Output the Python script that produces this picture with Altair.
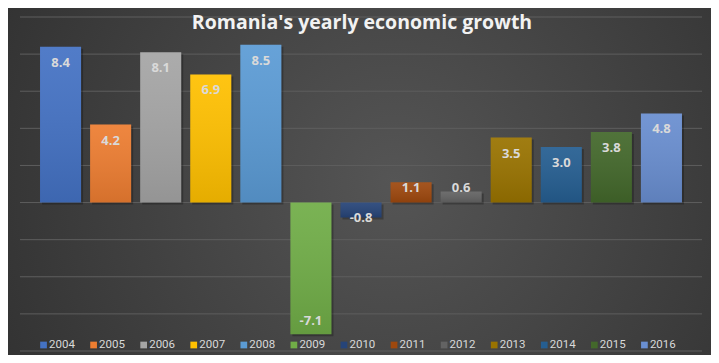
import altair as alt
import pandas as pd

years = ["2004", "2005", "2006", "2007", "2008", "2009", "2010",
         "2011", "2012", "2013", "2014", "2015", "2016"]
growth = [8.4, 4.2, 8.1, 6.9, 8.5, -7.1, -0.8, 1.1, 0.6, 3.5, 3.0, 3.8, 4.8]
colors = ["#4472C4", "#ED7D31", "#A5A5A5", "#FFC000", "#5B9BD5", "#70AD47",
          "#264478", "#9E480E", "#636363", "#997300", "#255E91", "#43682B",
          "#698ED0"]
grid_values = [-8, -6, -4, -2, 0, 2, 4, 6, 8, 10]
title_text = "Romania's yearly economic growth"

df = pd.DataFrame({"year": years, "growth": growth})
grid_df = pd.DataFrame({"v": grid_values})
one = pd.DataFrame({"k": [0]})

W, H = 682, 334

x = alt.X("year:N", sort=years,
          scale=alt.Scale(paddingInner=0.18, paddingOuter=0.4), axis=None)
y_scale = alt.Scale(domain=[-8, 10], nice=False)
color = alt.Color("year:N", sort=years,
                  scale=alt.Scale(domain=years, range=colors), legend=None)

radial = {
    "gradient": "radial", "x1": 0.55, "y1": 0.5, "r1": 0,
    "x2": 0.55, "y2": 0.5, "r2": 0.75,
    "stops": [{"offset": 0, "color": "#555555"},
              {"offset": 1, "color": "#2b2b2b"}],
}
bar_shade = {
    "gradient": "linear", "x1": 0, "y1": 0, "x2": 0, "y2": 1,
    "stops": [{"offset": 0, "color": "rgba(255,255,255,0.07)"},
              {"offset": 1, "color": "rgba(0,0,0,0.10)"}],
}

bg = alt.Chart(one).mark_rect(fill=radial, clip=False).encode(
    x=alt.value(-12), x2=alt.value(W + 9), y=alt.value(-9), y2=alt.value(H + 4)
)

grid = alt.Chart(grid_df).mark_rule(color="#5e5e5e", strokeWidth=1).encode(
    y=alt.Y("v:Q", scale=y_scale, axis=None),
    x=alt.value(0), x2=alt.value(W),
)

base = alt.Chart(df)

shadow = base.mark_bar(color="black", opacity=0.25, xOffset=2, yOffset=2,
                       x2Offset=2, y2Offset=2).encode(
    x=x, y=alt.Y("growth:Q", scale=y_scale, axis=None), y2=alt.datum(0)
)

bars = base.mark_bar().encode(
    x=x, y=alt.Y("growth:Q", scale=y_scale, axis=None), y2=alt.datum(0),
    color=color,
)

shade = base.mark_bar(fill=bar_shade).encode(
    x=x, y=alt.Y("growth:Q", scale=y_scale, axis=None), y2=alt.datum(0)
)

labels = base.transform_calculate(
    labY="datum.growth >= 0 ? max(datum.growth - 0.86, 0.8) : -max(-datum.growth - 0.72, 0.85)",
    lab="replace(format(datum.growth, '.1f'), '\u2212', '-')",
).mark_text(font="Open Sans", fontWeight="bold", fontSize=13,
            color="#D9D9D9", baseline="middle").encode(
    x=x, y=alt.Y("labY:Q", scale=y_scale, axis=None), text="lab:N"
)

xl = alt.X("year:N", sort=years, bandPosition=0,
           scale=alt.Scale(paddingInner=0.18, paddingOuter=0.4), axis=None)

leg_sym = base.mark_point(shape="square", filled=True, size=45, opacity=1,
                          xOffset=3.5).encode(
    x=xl, y=alt.value(H - 6), color=color,
)
leg_txt = base.mark_text(font="Roboto", fontSize=11.5, color="#D9D9D9",
                         align="left", baseline="middle", xOffset=9).encode(
    x=xl, y=alt.value(H - 6), text="year:N",
)

title = alt.Chart(one).mark_text(
    text=title_text, font="Open Sans", fontWeight="bold", fontSize=19.5,
    color="#F2F2F2", baseline="middle",
    align="center").encode(x=alt.value(W / 2 + 1), y=alt.value(5.5))

chart = alt.layer(
    bg, grid, shadow, bars, shade, labels, leg_sym, leg_txt, title
).properties(
    width=W, height=H,
    autosize=alt.AutoSizeParams(type="none"),
    padding={"left": 12, "top": 9, "right": 9, "bottom": 4},
    background="#333333",
).configure_view(stroke=None)

chart.save("out.html", embed_options={"renderer": "svg", "actions": False})
